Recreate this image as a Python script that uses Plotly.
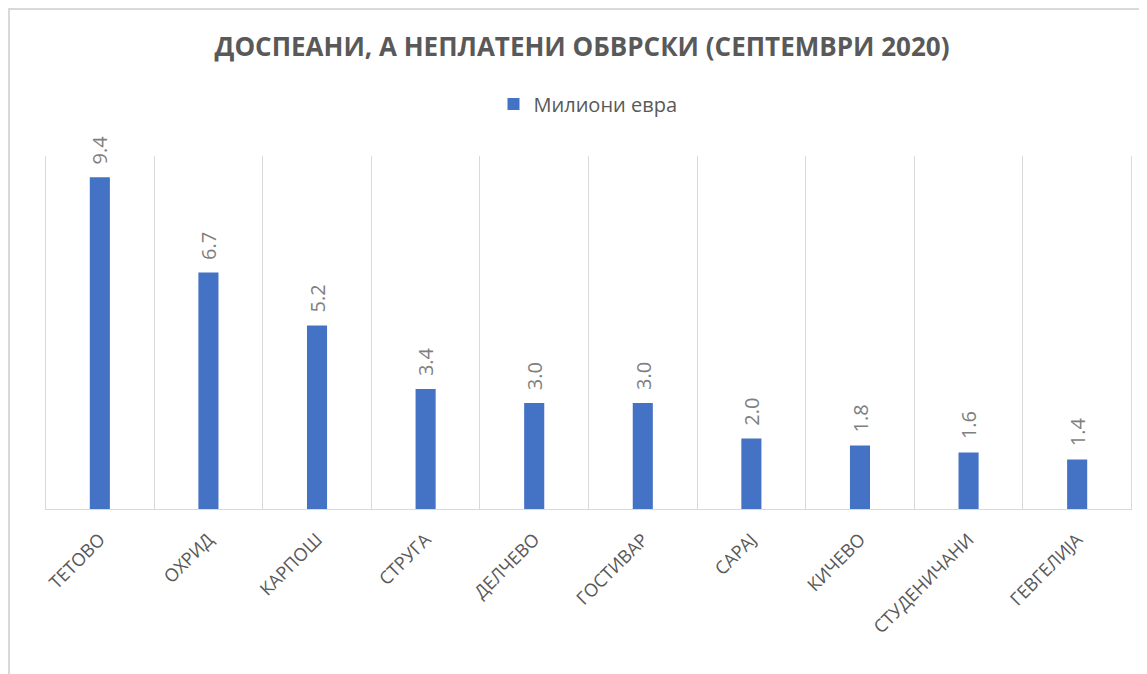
import plotly.graph_objects as go

categories = ["ТЕТОВО", "ОХРИД", "КАРПОШ", "СТРУГА", "ДЕЛЧЕВО",
              "ГОСТИВАР", "САРАЈ", "КИЧЕВО", "СТУДЕНИЧАНИ", "ГЕВГЕЛИЈА"]
values = [9.4, 6.7, 5.2, 3.4, 3.0, 3.0, 2.0, 1.8, 1.6, 1.4]
series_name = "Милиони евра"
title_text = "ДОСПЕАНИ, А НЕПЛАТЕНИ ОБВРСКИ (СЕПТЕМВРИ 2020)"

# page body has an 8px margin, so the figure starts at (8, 8) on screen
OFF = 8
W, H = 1147 - OFF, 674 - OFF
L, R, T, B = 45 - OFF, 1147 - 1132, 156 - OFF, 674 - 509
pw, ph = W - L - R, H - T - B


def px_x(px):  # screen px -> paper x
    return (px - OFF - L) / pw


def px_y(py):  # screen px -> paper y
    return 1 - (py - OFF - T) / ph


fig = go.Figure()
fig.add_trace(go.Bar(
    x=categories, y=values, name=series_name,
    marker=dict(color="#4472C4", line=dict(width=0)),
    showlegend=True,
))

for c, v in zip(categories, values):
    fig.add_annotation(
        x=c, y=v, xref="x", yref="y", text=f"{v:.1f}",
        textangle=-90, showarrow=False, yanchor="bottom", xanchor="center",
        yshift=11, font=dict(family="Open Sans", size=20, color="#7F7F7F"),
    )

# category-boundary gridlines at the two ends of the axis
n = len(categories)
for xb in (-0.5, n - 0.5):
    fig.add_shape(type="line", xref="x", yref="paper", x0=xb, x1=xb, y0=0, y1=1,
                  line=dict(color="#D9D9D9", width=1), layer="below")

# outer chart border (top and left visible)
fig.add_shape(type="line", xref="paper", yref="paper",
              x0=px_x(8), x1=px_x(1160), y0=px_y(9), y1=px_y(9),
              line=dict(color="#D9D9D9", width=2))
fig.add_shape(type="line", xref="paper", yref="paper",
              x0=px_x(9), x1=px_x(9), y0=px_y(8), y1=px_y(700),
              line=dict(color="#D9D9D9", width=2))

fig.update_layout(
    width=W, height=H,
    margin=dict(l=L, r=R, t=T, b=B, autoexpand=False),
    paper_bgcolor="white", plot_bgcolor="white",
    bargap=0.815,
    title=dict(text=f"<b>{title_text}</b>", xref="container", x=(582 - OFF) / W,
               xanchor="center",
               yref="container", y=1 - (47 - OFF) / H, yanchor="middle",
               font=dict(family="Open Sans", size=26, color="#595959")),
    legend=dict(orientation="h", xref="paper", x=px_x(588), xanchor="center",
                yref="container", y=1 - (104 - OFF) / H, yanchor="middle",
                font=dict(family="Open Sans", size=20, color="#595959"),
                itemwidth=30),
    xaxis=dict(tickson="boundaries", showgrid=True, gridcolor="#D9D9D9", gridwidth=1,
               showline=True, linecolor="#D9D9D9", linewidth=1, ticks="",
               tickangle=-45, ticklabelstandoff=12,
               tickfont=dict(family="Open Sans", size=18, color="#595959"),
               range=[-0.505, n - 0.495], automargin=False),
    yaxis=dict(range=[0, 10], showgrid=False, showticklabels=False, zeroline=False,
               showline=False, ticks="", automargin=False),
)

fig.write_html("out.html")
